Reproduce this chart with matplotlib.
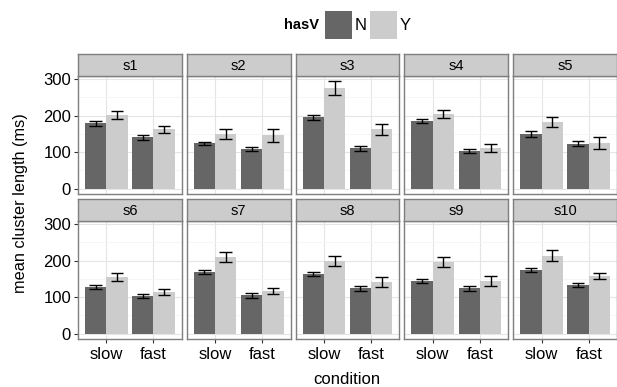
import matplotlib
matplotlib.use('Agg')
import matplotlib.pyplot as plt
from matplotlib.patches import Rectangle
import numpy as np

plt.rcParams['font.family'] = ['Liberation Sans', 'DejaVu Sans']

subjects = ['s1', 's2', 's3', 's4', 's5', 's6', 's7', 's8', 's9', 's10']
conditions = ['slow', 'fast']
hasv_levels = ['N', 'Y']

# mean cluster length (ms) and error half-widths
n_slow = [179, 124, 195, 185, 149.5, 127.5, 169, 162, 144, 173]
n_slow_err = [7.5, 4, 6.5, 4.5, 7, 6.5, 5, 5.5, 4.5, 5.5]
y_slow = [201, 149.5, 275, 204.5, 182.5, 156, 210, 200, 196, 213]
y_slow_err = [11.5, 13, 19.5, 11.5, 14, 11, 13.5, 13.5, 14, 15]
n_fast = [140, 109, 110, 102, 123, 104, 104.5, 124, 124, 133]
n_fast_err = [6, 5, 7, 5.5, 7.5, 5.5, 7, 7, 7.5, 5.5]
y_fast = [162, 146, 162, 111, 125, 114, 116.5, 141, 144, 158]
y_fast_err = [10.5, 17, 16, 10, 15.5, 9.5, 8.5, 14, 13.5, 8.5]

fill_colors = {'N': '#666666', 'Y': '#cccccc'}
border = '#7f7f7f'

W, H = 617, 387
fig = plt.figure(figsize=(W / 100, H / 100), dpi=100)


def frac(x0, y0, w, h):
    # pixel box (top-left origin) -> figure fraction
    return [x0 / W, 1 - (y0 + h) / H, w / W, h / H]


means = {'N': [n_slow, n_fast], 'Y': [y_slow, y_fast]}
errs = {'N': [n_slow_err, n_fast_err], 'Y': [y_slow_err, y_fast_err]}

top_val = max(max(np.array(means[h][c]) + np.array(errs[h][c]))
              for h in hasv_levels for c in range(2))
ylo, yhi = -0.05 * top_val, 1.05 * top_val

left0, pw, step = 78, 103.8, 108.8
rows = [(54, 75.7, 194), (199, 220.7, 339)]  # strip top, panel top, panel bottom
bar_w = 0.45
cap_w = 0.27

for i, subj in enumerate(subjects):
    r, c = divmod(i, 5)
    st, pt, pb = rows[r]
    x0 = left0 + c * step
    ax = fig.add_axes(frac(x0, pt, pw, pb - pt))
    sax = fig.add_axes(frac(x0, st, pw, pt - st))

    xs = np.arange(1, len(conditions) + 1)
    for k, h in enumerate(hasv_levels):
        offs = (k - 0.5) * bar_w
        for j in range(len(conditions)):
            m = means[h][j][i]
            e = errs[h][j][i]
            xc = xs[j] + offs
            ax.bar(xc, m, width=bar_w, color=fill_colors[h], zorder=2)
            ax.vlines(xc, m - e, m + e, color='black', lw=1.0, zorder=3)
            ax.hlines([m - e, m + e], xc - cap_w / 2, xc + cap_w / 2,
                      color='black', lw=1.0, zorder=3)

    ax.set_xlim(0.4, 2.6)
    ax.set_ylim(ylo, yhi)
    ax.set_yticks([0, 100, 200, 300])
    ax.set_yticks([50, 150, 250], minor=True)
    ax.set_xticks(xs)
    ax.grid(True, which='major', color='#e5e5e5', lw=0.8, zorder=0)
    ax.grid(True, which='minor', axis='y', color='#f5f5f5', lw=0.6, zorder=0)
    ax.set_axisbelow(True)
    for sp in ax.spines.values():
        sp.set_color(border)
        sp.set_linewidth(1.0)
    ax.tick_params(which='minor', length=0)
    ax.tick_params(which='major', color='#333333', length=3, width=0.8,
                   labelsize=12, labelcolor='black')
    ax.tick_params(axis='y', pad=2)
    ax.tick_params(axis='x', pad=2.5)
    if c == 0:
        ax.set_yticklabels(['0', '100', '200', '300'])
    else:
        ax.tick_params(axis='y', length=0, labelleft=False)
    if r == 1:
        ax.set_xticklabels(conditions)
    else:
        ax.tick_params(axis='x', length=0, labelbottom=False)

    sax.set_facecolor('#cccccc')
    sax.set_xticks([])
    sax.set_yticks([])
    for sp in sax.spines.values():
        sp.set_color(border)
        sp.set_linewidth(1.0)
    sax.text(0.5, 0.47, subj, ha='center', va='center', fontsize=10.5,
             transform=sax.transAxes)

# legend
fig.text(319 / W, 1 - 25 / H, 'hasV', ha='right', va='center',
         fontsize=10.5, fontweight='bold')
for lab, bx, tx in [('N', 325, 355), ('Y', 370, 400)]:
    fig.add_artist(Rectangle((bx / W, 1 - 39 / H), 27 / W, 28 / H,
                             transform=fig.transFigure,
                             facecolor=fill_colors[lab], edgecolor='none'))
    fig.text(tx / W, 1 - 25 / H, lab, ha='left', va='center', fontsize=12)

fig.text(21 / W, 1 - 203 / H, 'mean cluster length (ms)', rotation=90,
         ha='center', va='center', fontsize=11.7)
fig.text(347 / W, 1 - 379 / H, 'condition', ha='center', va='center',
         fontsize=12)

fig.savefig('out.png', dpi=100)
